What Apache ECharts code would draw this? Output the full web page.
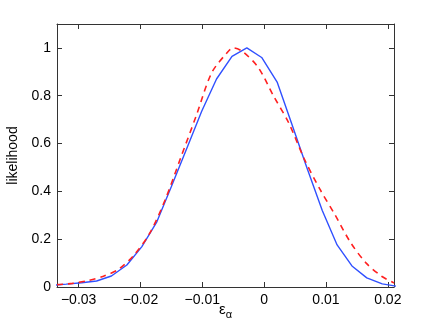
<!DOCTYPE html>
<html>
<head>
<meta charset="utf-8">
<script src="https://cdn.jsdelivr.net/npm/echarts@6/dist/echarts.min.js"></script>
<style>
  html, body { margin: 0; padding: 0; background: #fff; }
  #chart { width: 436px; height: 328px; }
</style>
</head>
<body>
<div id="chart"></div>
<script>
// solid blue curve (vertices)
const blueX = [-0.0344, -0.0320, -0.0295, -0.0271, -0.0247, -0.0222, -0.0198, -0.0174, -0.0150, -0.0125,
  -0.0101, -0.0077, -0.0052, -0.0028, -0.0004, 0.0021, 0.0045, 0.0069, 0.0094, 0.0118,
  0.0142, 0.0166, 0.0191, 0.0215];
const blueY = [0.007, 0.012, 0.018, 0.025, 0.046, 0.092, 0.168, 0.27, 0.42, 0.58,
  0.735, 0.87, 0.965, 1.0, 0.96, 0.857, 0.68, 0.50, 0.32, 0.176,
  0.088, 0.038, 0.013, 0.003];
// dashed red curve
const redX = [-0.0335, -0.031, -0.0285, -0.026, -0.0235, -0.021, -0.0185, -0.016, -0.0135, -0.011,
  -0.0085, -0.006, -0.005, -0.0035, -0.001, 0.0015, 0.004, 0.0065, 0.009, 0.0115,
  0.014, 0.0165, 0.019, 0.021];
const redY = [0.010, 0.015, 0.027, 0.045, 0.075, 0.135, 0.225, 0.365, 0.54, 0.715,
  0.895, 0.98, 1.0, 0.985, 0.92, 0.80, 0.685, 0.535, 0.41, 0.30,
  0.185, 0.10, 0.045, 0.017];
const xTicks = [-0.03, -0.02, -0.01, 0, 0.01, 0.02];
const yTicks = [0, 0.2, 0.4, 0.6, 0.8, 1];

const chart = echarts.init(document.getElementById('chart'), null, { renderer: 'canvas' });

const lineCol = '#333';
const font = 'Liberation Sans, Arial, Helvetica, sans-serif';
const pair = (xs, ys) => xs.map((x, i) => [x, ys[i]]);
const fmt = v => (v === 0 ? '0' : String(v).replace('-', '\u2212'));

function xAxisCfg(pos, labels) {
  return {
    type: 'value', position: pos, min: -0.0335, max: 0.021,
    axisLine: { show: true, onZero: false, lineStyle: { color: lineCol, width: 1 } },
    axisTick: { show: true, inside: true, length: 5, customValues: xTicks, lineStyle: { color: lineCol } },
    axisLabel: { show: labels, customValues: xTicks, formatter: fmt, color: '#000', fontSize: 14, fontFamily: font, margin: 6 },
    splitLine: { show: false },
    name: labels ? '{e|\u03b5}{s|\u03b1}' : '',
    nameLocation: 'middle', nameGap: 12, nameMoveOverlap: false,
    nameTextStyle: {
      rich: {
        e: { fontSize: 15, fontFamily: font, color: '#000' },
        s: { fontSize: 11, fontFamily: font, color: '#000', padding: [10, 0, 0, 0] }
      }
    }
  };
}
function yAxisCfg(pos, labels) {
  return {
    type: 'value', position: pos, min: 0, max: 1.1,
    axisLine: { show: true, onZero: false, lineStyle: { color: lineCol, width: 1 } },
    axisTick: { show: true, inside: true, length: 5, customValues: yTicks, lineStyle: { color: lineCol } },
    axisLabel: { show: labels, customValues: yTicks, color: '#000', fontSize: 14, fontFamily: font, margin: 6 },
    splitLine: { show: false },
    name: labels ? 'likelihood' : '',
    nameLocation: 'middle', nameGap: 27,
    nameTextStyle: { fontSize: 14, fontFamily: font, color: '#000' }
  };
}

chart.setOption({
  animation: false,
  backgroundColor: '#fff',
  grid: { left: 57, right: 42, top: 24, bottom: 41, outerBoundsMode: 'none', containLabel: false },
  xAxis: [xAxisCfg('bottom', true), xAxisCfg('top', false)],
  yAxis: [yAxisCfg('left', true), yAxisCfg('right', false)],
  series: [
    {
      type: 'line', data: pair(blueX, blueY), symbol: 'none', clip: true,
      lineStyle: { color: '#3050ff', width: 1.4, type: 'solid' }
    },
    {
      type: 'line', data: pair(redX, redY), symbol: 'none', smooth: 0.3, clip: true,
      lineStyle: { color: '#ff2020', width: 1.6, type: [6, 5] }
    }
  ]
});
</script>
</body>
</html>
